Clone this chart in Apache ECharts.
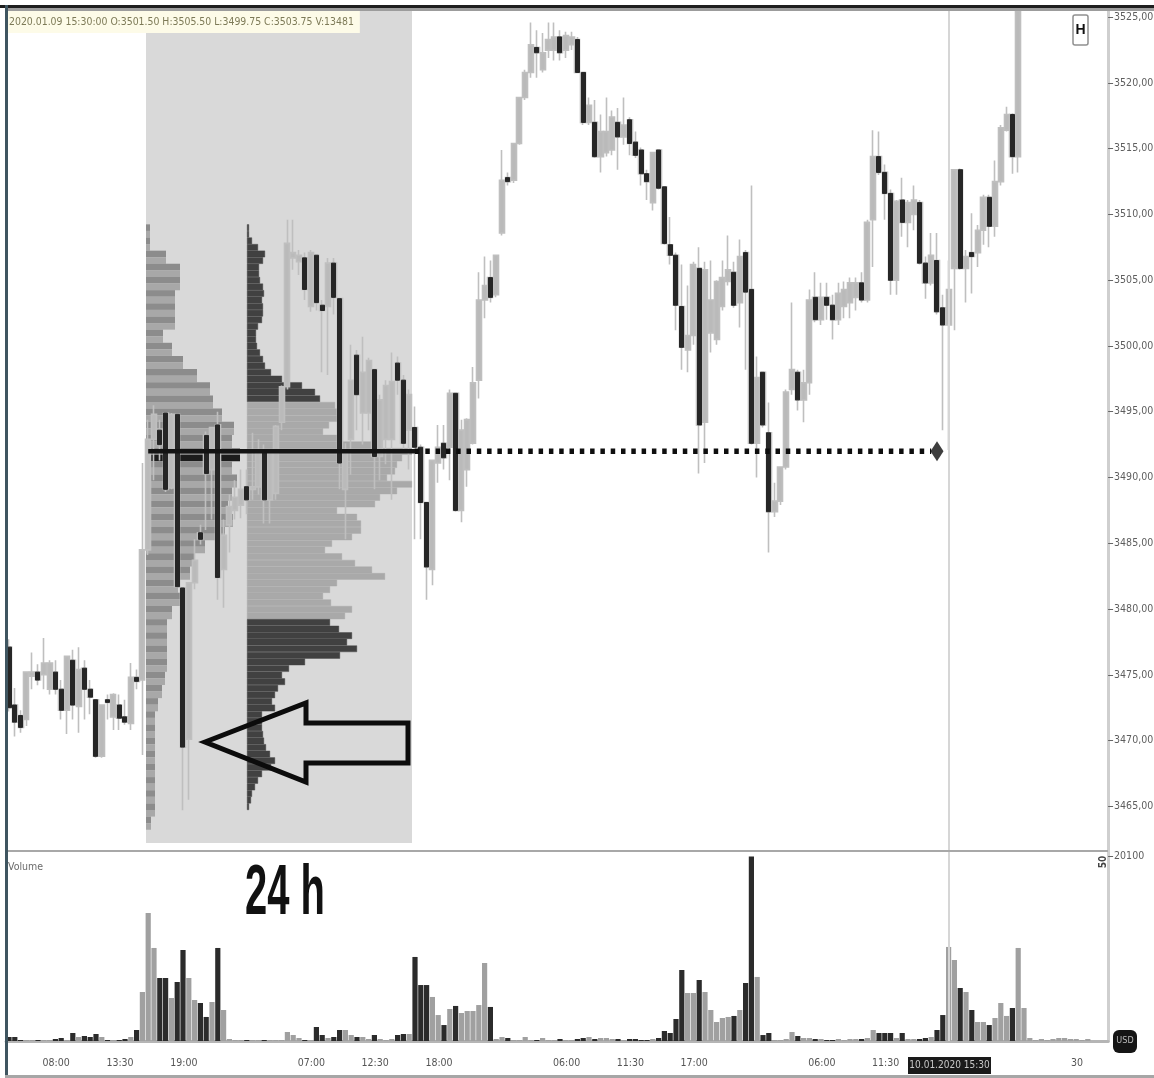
<!DOCTYPE html>
<html><head><meta charset="utf-8">
<style>html,body{margin:0;padding:0;background:#fff}#c{width:1154px;height:1078px;filter:blur(0.7px)}</style>
<script src="https://cdn.jsdelivr.net/npm/echarts@6/dist/echarts.min.js"></script>
</head><body><div id="c"></div>
<script>
const opens=[3477.1,3472.7,3471.9,3471.6,3474.9,3475.2,3475,3473.9,3475.2,3473.9,
3472.3,3476.1,3472.6,3475.5,3473.9,3473.1,3468.8,3473.1,3471.8,3472.7,
3471.8,3471.3,3474.8,3474.6,3484.5,3492.9,3493.6,3494.9,3489.2,3494.8,
3481.6,3470.1,3482,3485.8,3493.2,3490.6,3494,3483,3486.4,3487.5,
3487.9,3489.3,3489.1,3489.3,3491.9,3488.3,3488.8,3494.2,3496.9,3506.7,
3506.4,3506.7,3503,3506.9,3503.1,3503,3506.3,3503.6,3489.1,3492.9,
3499.3,3494.9,3494.9,3498.2,3491.6,3492.9,3492.9,3498.7,3497.4,3493.6,
3493.8,3492.3,3488.1,3483,3491.1,3492.6,3492.3,3496.4,3487.5,3490.6,
3492.6,3497.4,3503.5,3505.2,3503.9,3508.6,3512.8,3512.6,3515.4,3518.9,
3520.8,3522.7,3521,3522.5,3522.5,3523.5,3522.5,3522.9,3523.3,3520.8,
3517,3517,3514.4,3514.7,3514.9,3517,3515.9,3517.2,3515.5,3514.9,
3513.1,3510.9,3514.9,3512.1,3507.7,3506.9,3503,3499.7,3500.8,3505.9,
3494.2,3501,3500.5,3503,3504.9,3505.6,3503.3,3507.1,3504.3,3492.6,
3498,3493.4,3487.4,3488.2,3490.8,3496.7,3498,3495.9,3497.2,3503.7,
3502,3503.7,3503.1,3502,3503,3503.3,3503.7,3504.8,3503.5,3509.6,
3514.4,3513.2,3511.6,3505,3511.1,3509.4,3510,3510.9,3506.3,3504.8,
3506.5,3502.9,3501.6,3505.9,3513.4,3505.9,3507.1,3507.1,3508.8,3511.3,
3509.1,3512.5,3516.4,3517.6,3514.4];
const closes=[3472.5,3471.4,3471,3475.2,3475.2,3474.6,3475.9,3475.9,3473.9,3472.3,
3476.4,3472.7,3475.4,3473.9,3473.3,3468.8,3472.7,3472.9,3473.5,3471.7,
3471.4,3474.8,3474.5,3484.5,3492.9,3494.8,3492.5,3489.1,3494.8,3481.7,
3469.5,3482,3483.7,3485.3,3490.3,3493.8,3482.4,3485.6,3487.8,3488.5,
3489.1,3488.3,3489.3,3491.9,3488.3,3491.9,3493.9,3496.9,3507.8,3507.1,
3506.9,3504.3,3507.1,3503.3,3502.7,3506.3,3503.7,3491.1,3492.1,3497.4,
3496.3,3498,3498.9,3491.6,3495.9,3497,3497.3,3497.4,3492.6,3496.3,
3492.3,3488.1,3483.2,3491.3,3492.3,3491.5,3496.4,3487.5,3493.6,3494.4,
3497.2,3503.5,3504.6,3503.7,3506.9,3512.6,3512.5,3515.4,3518.9,3520.8,
3522.9,3522.3,3522.3,3523.3,3523.5,3522.3,3523.6,3523.5,3520.8,3517,
3518.3,3514.4,3516.3,3516.3,3517.4,3515.9,3516.8,3515.4,3514.5,3513.1,
3512.5,3514.7,3512,3507.8,3506.9,3503.1,3499.9,3500.8,3506.2,3494,
3505.8,3503.5,3504.9,3505.2,3505.8,3503.1,3506.8,3504.1,3492.6,3497.6,
3494,3487.4,3488.2,3490.8,3496.5,3498.2,3495.9,3497.2,3503.5,3502,
3503.7,3503.1,3502,3504,3504.3,3504.8,3504.8,3503.5,3509.4,3514.4,
3513.2,3511.6,3505,3511,3509.4,3510.9,3511.1,3506.3,3504.8,3506.9,
3502.6,3501.6,3504.3,3513.4,3505.9,3506.8,3506.8,3508.8,3511.3,3509.1,
3512.5,3516.6,3517.6,3514.4,3525.5];
const lows=[3472.2,3470.3,3470.6,3471.1,3473.9,3474.2,3473.9,3473.5,3473.5,3471.6,
3470.5,3471.6,3470.6,3471.6,3472,3468.7,3468.7,3471.6,3470.8,3470.8,
3471.2,3470.8,3473.9,3468.9,3484.1,3489.8,3491.3,3488.9,3489.1,3481.6,
3464.7,3465.5,3481.5,3484.9,3486,3486.8,3480.7,3480.1,3484.3,3486.8,
3486.9,3487.2,3488.3,3488.7,3486.5,3486.5,3488.3,3493.6,3496.7,3505.8,
3505.4,3503.5,3502.6,3502.7,3498,3497.8,3502.4,3489.1,3485.3,3490.2,
3493.6,3492.5,3493.6,3489.1,3489.8,3491,3488.3,3496.3,3492.1,3490.6,
3485.3,3485.3,3480.7,3481.8,3489.6,3490.6,3489.8,3487.4,3486.6,3489.3,
3492.5,3496,3502.1,3503.3,3503.7,3508.4,3512.2,3512.4,3515.3,3518.7,
3520.4,3520.4,3520.8,3521.9,3521.7,3521.7,3521.9,3522.5,3520.8,3516.8,
3516.8,3514.3,3513.2,3514.4,3514.5,3513.4,3515.3,3514.5,3514.3,3512.2,
3511.1,3510.3,3511.9,3507.7,3506.2,3501.2,3498.2,3498,3500.1,3490.3,
3491.1,3499.5,3500.1,3502.7,3504.6,3502.9,3501.4,3498.2,3492.5,3490,
3493.8,3484.3,3487,3487.9,3490.6,3496.3,3495.1,3494.2,3496.3,3501.8,
3501.6,3502,3500.5,3501.6,3502.1,3502.1,3502.7,3503.3,3503.3,3506,
3513,3509.6,3503.9,3503.9,3508.3,3507.5,3508.8,3506.2,3503.6,3504.6,
3502.4,3493.6,3492.1,3501.2,3505.8,3503.3,3504,3506,3507.7,3507.5,
3508.3,3512.2,3516.3,3513.1,3513.2];
const highs=[3477.7,3474,3472.3,3475.2,3476.7,3475.8,3477.8,3476.1,3476.1,3474.6,
3476.4,3476.9,3477.1,3476.1,3474.6,3473.1,3472.7,3473.5,3473.6,3473.5,
3473.1,3475.9,3475.4,3491.1,3494.4,3495.5,3494.4,3494.9,3494.9,3494.8,
3481.6,3482,3485.3,3486.4,3493.5,3493.8,3495,3486.8,3488.7,3489.8,
3490.6,3490.6,3493.4,3492.9,3492.5,3492.1,3494,3497,3509.6,3509.6,
3507.3,3507.1,3507.3,3506.9,3503.5,3506.7,3506.7,3503.6,3492.6,3500.1,
3499.7,3500.7,3499.1,3498.2,3496.3,3497.4,3499.5,3499.2,3497.8,3496.7,
3495.4,3492.5,3488.1,3491.3,3494,3494,3496.7,3496.4,3494.4,3494.5,
3498.4,3505.6,3506.8,3506.5,3506.9,3514.9,3513.2,3515.4,3518.9,3521,
3524.6,3524,3523.8,3524.6,3524.6,3524,3523.9,3523.9,3523.5,3520.8,
3518.9,3518.7,3517.6,3518.9,3517.9,3518.1,3518.9,3517.4,3516.3,3515.1,
3513.4,3514.7,3514.9,3512.1,3509.8,3507.1,3506.2,3504.6,3506.4,3507.5,
3506.4,3506.5,3505,3506.5,3508.4,3506.4,3508.1,3507.3,3512.2,3499.2,
3498,3495.7,3489.6,3490.8,3496.7,3503.3,3498.2,3498.2,3504.3,3505.6,
3504.8,3504.8,3503.9,3504.8,3504.9,3505.2,3505.2,3505.6,3509.6,3516.4,
3516.3,3513.8,3511.9,3511.1,3512.8,3511.1,3512.2,3511.1,3506.8,3508.6,
3508.6,3503.9,3506.5,3513.4,3513.5,3507.3,3510.1,3509.2,3511.5,3511.5,
3514.1,3516.8,3518.2,3517.7,3525.5];
const volumes=[436,436,109,109,109,109,109,109,218,327,
109,872,436,545,436,763,436,109,109,109,
218,436,1199,5340,13950,10140,6870,6870,4690,6430,
9920,6870,4470,4140,2620,4250,10140,3380,218,109,
109,109,109,109,109,109,109,109,981,654,
327,109,109,1526,654,327,436,1199,1199,654,
436,436,218,654,218,109,218,654,763,763,
9160,6100,6100,4800,2830,1740,3490,3820,3050,3270,
3270,3920,8500,3710,218,436,327,109,109,436,
109,109,327,109,109,218,109,109,218,327,
436,218,327,327,218,218,109,218,218,109,
109,218,327,1090,872,2400,7740,5230,5230,6650,
5340,3380,2070,2510,2620,2730,3380,6320,20100,6980,
650,872,109,109,218,981,545,327,327,218,
218,109,109,218,109,218,218,218,327,1199,
872,872,872,327,872,218,218,218,327,436,
1199,2830,10250,8830,5780,5340,3380,2070,2070,1740,
2510,4140,2730,3600,10140,3600,327,109,218,109,
218,327,327,218,218,109,218];
const tickLabels=['08:00','13:30','19:00','','07:00','12:30','18:00','','06:00','11:30','17:00','','06:00','11:30','','','30'];
const priceTicks=[3465,3470,3475,3480,3485,3490,3495,3500,3505,3510,3515,3520,3525];
// Volume profile of the shaded session, one value per price point from 3509 downwards
const profile1=[4,4,20,34,34,29,29,29,17,26,37,51,64,67,76,88,86,94,86,91,86,82,87,79,59,49,44,32,34,26,21,21,21,21,19,16,12,9,9,9,9,9,9,9,9,5];
// TPO-style profile, one value per half point from 3509 downwards: above value area, value area, below value area
const profile2Upper=[2,2,5,11,18,16,12,12,13,16,17,15,16,16,15,11,9,9,10,13,16,18,24,35,55,68,73];
const profile2Value=[88,90,91,82,76,95,130,165,155,150,148,140,165,150,133,128,90,110,114,114,105,85,78,95,108,125,138,90,83,76,84,105,98];
const profile2Lower=[83,92,105,100,110,93,58,42,35,38,31,28,25,28,15,15,15,16,17,19,23,28,24,15,11,8,5,4,2];
const pocPrice=3492;
const headerText='2020.01.09 15:30:00 O:3501.50 H:3505.50 L:3499.75 C:3503.75 V:13481';
const slotCount=190, firstTick=9, tickEvery=11;

const FONT='"DejaVu Sans Condensed","Liberation Sans",sans-serif';
const UP='#bababa', DOWN='#262626';
const slots=Array.from({length:slotCount},(_,i)=>String(i));
const isTick=i=>i>=firstTick&&(i-firstTick)%tickEvery===0;
const isDown=i=>i<opens.length?closes[i]<opens[i]:false;
const allCandles=opens.map((o,i)=>[o,closes[i],lows[i],highs[i]]);
const darkBodies=opens.map((o,i)=>isDown(i)?[o,closes[i],closes[i],o]:'-');
const volData=volumes.map((v,i)=>({value:v,itemStyle:{color:isDown(i)?'#2b2b2b':'#a0a0a0'}}));
// half-point price rows of the profile panel
const rows=[];for(let k=0;k<127;k++)rows.push((3525.5-0.5*k).toFixed(1));
const lead=(3525.5-3509)/0.5;
const p1Rows=new Array(lead).fill(0);
profile1.forEach(w=>{p1Rows.push(w,w)});
const p1Data=p1Rows.map((w,k)=>({value:w,itemStyle:{color:rows[k]==='3491.5'?'#1c1c1c':(k%2?'#8c8c8c':'#a8a8a8')}}));
const band=(arr,color)=>arr.map(w=>({value:w,itemStyle:{color,borderColor:color,borderWidth:0.4}}));
const p2Data=new Array(lead).fill(0).map(v=>({value:v})).concat(band(profile2Upper,'#414141'),band(profile2Value,'#a9a9a9'),band(profile2Lower,'#414141'));
const pocSolid=slots.map((_,i)=>i>=24&&i<=70?pocPrice:null);
const pocDots=slots.map((_,i)=>i>=70&&i<=159?pocPrice:null);
const pocEnd=slots.map((_,i)=>i===160?pocPrice:null);

const hiddenX=g=>({type:'value',gridIndex:g,min:0,show:false});
const hiddenY=g=>({type:'category',gridIndex:g,data:rows,inverse:true,show:false,boundaryGap:true});

const chart=echarts.init(document.getElementById('c'),null,{renderer:'canvas'});
chart.setOption({
 animation:false,backgroundColor:'#fff',
 title:{text:headerText,left:7,top:11,padding:[6,6,5,2],backgroundColor:'#fdfbe8',
  textStyle:{fontFamily:FONT,fontSize:10.4,fontWeight:'normal',color:'#7d7a57',lineHeight:11}},
 grid:[
  {left:6.1,width:1102,top:8,height:843,outerBoundsMode:'none'},
  {left:6.1,width:1102,top:852,height:189,outerBoundsMode:'none'},
  {left:146,width:266,top:7.2,height:835.7,show:true,backgroundColor:'#d9d9d9',borderWidth:0,outerBoundsMode:'none'},
  {left:247,width:165,top:7.2,height:835.7,outerBoundsMode:'none'}
 ],
 xAxis:[
  {type:'category',gridIndex:0,data:slots,boundaryGap:true,show:false},
  {type:'category',gridIndex:1,data:slots,boundaryGap:true,offset:4,
   axisLine:{lineStyle:{color:'#b5b5b5',width:3}},
   axisTick:{alignWithLabel:true,interval:(i)=>isTick(i),length:10,lineStyle:{color:'#7e7e7e',width:1}},
   axisLabel:{interval:(i)=>isTick(i),margin:13,padding:[0,10,0,0],color:'#555',fontFamily:FONT,fontSize:10.5,
    formatter:(v,i)=>tickLabels[(i-firstTick)/tickEvery]||''},
   splitLine:{show:false}},
  Object.assign(hiddenX(2),{max:266}),
  Object.assign(hiddenX(3),{max:165})
 ],
 yAxis:[
  {type:'value',gridIndex:0,position:'right',min:3461.6,max:3525.7,scale:true,
   axisLine:{show:true,lineStyle:{color:'#cfcfcf',width:3}},
   axisTick:{show:true,length:5,customValues:priceTicks,lineStyle:{color:'#666'}},
   axisLabel:{customValues:priceTicks,margin:6,color:'#5e5e5e',fontFamily:FONT,fontSize:10.5,
    formatter:v=>v.toFixed(2).replace('.',',')},
   splitLine:{show:false}},
  {type:'value',gridIndex:1,position:'right',min:0,max:20600,
   axisLine:{show:true,lineStyle:{color:'#cfcfcf',width:3}},
   axisTick:{show:true,length:5,customValues:[20100],lineStyle:{color:'#666'}},
   axisLabel:{customValues:[20100],margin:6,color:'#5e5e5e',fontFamily:FONT,fontSize:10.5,formatter:v=>String(v)},
   splitLine:{show:false}},
  hiddenY(2),hiddenY(3)
 ],
 series:[
  {name:'Profile session',type:'bar',xAxisIndex:2,yAxisIndex:2,z:1,data:p1Data,barWidth:'100%',barCategoryGap:'0%',silent:true},
  {name:'Profile value area',type:'bar',xAxisIndex:3,yAxisIndex:3,z:1,data:p2Data,barWidth:'100%',barCategoryGap:'0%',silent:true},
  {name:'Price',type:'candlestick',xAxisIndex:0,yAxisIndex:0,z:3,data:allCandles,barWidth:5.5,
   itemStyle:{color:UP,color0:UP,borderColor:'#bfbfbf',borderColor0:'#bfbfbf',borderWidth:1.6},silent:true,
   markLine:{silent:true,symbol:'none',label:{show:false},data:[{xAxis:162}],lineStyle:{color:'#d6d6d6',width:2,type:'solid'}}},
  {name:'Price down bodies',type:'candlestick',xAxisIndex:0,yAxisIndex:0,z:4,data:darkBodies,barWidth:4.5,
   itemStyle:{color:DOWN,color0:DOWN,borderColor:DOWN,borderColor0:DOWN,borderWidth:1},silent:true},
  {name:'POC',type:'line',xAxisIndex:0,yAxisIndex:0,z:5,data:pocSolid,symbol:'none',connectNulls:false,
   lineStyle:{color:'#141414',width:4.5,type:'solid'},silent:true},
  {name:'POC extension',type:'line',xAxisIndex:0,yAxisIndex:0,z:5,data:pocDots,symbol:'none',connectNulls:false,
   lineStyle:{color:'#0e0e0e',width:5.5,type:[4.5,5.8]},silent:true},
  {name:'POC end',type:'scatter',xAxisIndex:0,yAxisIndex:0,z:6,data:pocEnd,symbol:'diamond',symbolSize:[13,20],
   itemStyle:{color:'#0e0e0e'},silent:true},
  {name:'Volume',type:'bar',xAxisIndex:1,yAxisIndex:1,z:3,data:volData,barWidth:5.2,silent:true,
   markLine:{silent:true,symbol:'none',label:{show:false},data:[{xAxis:162}],lineStyle:{color:'#d6d6d6',width:2,type:'solid'}}}
 ],
 graphic:[
  {type:'rect',z:50,shape:{x:0,y:5,width:1154,height:3},style:{fill:'#1e1e1e'}},
  {type:'rect',z:49,shape:{x:8,y:8,width:1146,height:3},style:{fill:'#9c9c9c'}},
  {type:'rect',z:50,shape:{x:5,y:5,width:3,height:1070},style:{fill:'#3f5560'}},
  {type:'rect',z:50,shape:{x:8,y:850,width:1100,height:2},style:{fill:'#a8a8a8'}},
  {type:'rect',z:50,shape:{x:5,y:1075,width:1149,height:3},style:{fill:'#a6a6a6'}},
  {type:'polygon',z:40,shape:{points:[[205,742],[306,703],[306,723],[408,723],[408,763],[306,763],[306,782]]},
   style:{fill:'none',stroke:'#0c0c0c',lineWidth:5,lineJoin:'miter'}},
  {type:'text',z:40,x:245,y:895,scaleX:0.57,scaleY:1,
   style:{text:'24 h',fill:'#111',font:'bold 70px "Liberation Sans",sans-serif',textVerticalAlign:'middle',verticalAlign:'middle'}},
  {type:'text',z:40,x:8,y:862,style:{text:'Volume',fill:'#6a6a6a',font:'10.5px '+FONT}},
  {type:'text',z:40,x:1103,y:862,rotation:Math.PI/2,style:{text:'50',fill:'#444',font:'bold 10px '+FONT,align:'center',verticalAlign:'middle'}},
  {type:'rect',z:40,shape:{x:1073,y:15,width:15,height:30,r:2},style:{fill:'#fff',stroke:'#909090',lineWidth:1.5}},
  {type:'text',z:41,x:1080.5,y:30,style:{text:'H',fill:'#111',font:'bold 14px "Liberation Sans",sans-serif',align:'center',verticalAlign:'middle'}},
  {type:'rect',z:40,shape:{x:1113,y:1030,width:24,height:23,r:6},style:{fill:'#151515'}},
  {type:'text',z:41,x:1125,y:1041,style:{text:'USD',fill:'#bdbdbd',font:'9px '+FONT,align:'center',verticalAlign:'middle'}},
  {type:'rect',z:40,shape:{x:908,y:1057,width:83,height:17},style:{fill:'#1a1a1a'}},
  {type:'text',z:41,x:949.5,y:1065.5,style:{text:'10.01.2020 15:30',fill:'#c8c8c8',font:'10px '+FONT,align:'center',verticalAlign:'middle'}}
 ]
});
</script></body></html>
